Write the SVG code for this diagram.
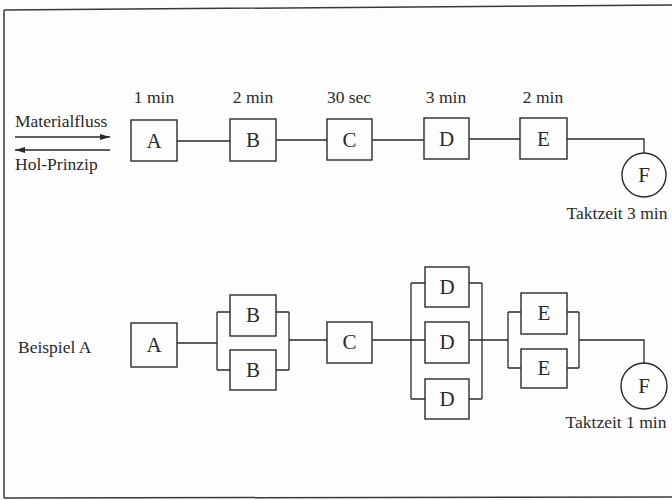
<svg xmlns="http://www.w3.org/2000/svg" width="672" height="500" viewBox="0 0 672 500" font-family="'Liberation Serif', 'DejaVu Serif', serif">
<defs>
<style>
text{font-family:'Liberation Serif','DejaVu Serif',serif;fill:#2a2a2a}
.lbl{font-size:17.5px}
.node rect,.node circle{fill:none;stroke:#2a2a2a;stroke-width:1.4}
.node text{font-size:21px;text-anchor:middle}
.c{fill:none;stroke:#2a2a2a;stroke-width:1.3}
.frame{fill:none;stroke:#3a3a3a;stroke-width:1.5}
</style>
<marker id="ah" viewBox="0 0 10 6" refX="10" refY="3" markerWidth="10" markerHeight="6" orient="auto" markerUnits="userSpaceOnUse"><path d="M0,0 L10,3 L0,6 z" fill="#2a2a2a"/></marker>
</defs>
<rect width="672" height="500" fill="#fdfdfd"/>
<path class="frame" d="M4,10 L672,5 M4,10 L4,498 M4,498 L672,497"/>

<g id="legend">
<text class="lbl" x="15" y="127">Materialfluss</text>
<line class="c" x1="15" y1="137" x2="110" y2="137" marker-end="url(#ah)"/>
<line class="c" x1="110" y1="150" x2="15" y2="150" marker-end="url(#ah)"/>
<text class="lbl" x="15" y="170">Hol-Prinzip</text>
<text class="lbl" x="18" y="353">Beispiel A</text>
</g>

<g id="times">
<text class="lbl" x="154" y="103" text-anchor="middle">1 min</text>
<text class="lbl" x="253" y="103" text-anchor="middle">2 min</text>
<text class="lbl" x="349" y="103" text-anchor="middle">30 sec</text>
<text class="lbl" x="446" y="103" text-anchor="middle">3 min</text>
<text class="lbl" x="543" y="103" text-anchor="middle">2 min</text>
<text class="lbl" x="617" y="219" text-anchor="middle">Taktzeit 3 min</text>
<text class="lbl" x="616" y="428" text-anchor="middle">Taktzeit 1 min</text>
</g>

<g id="connectors">
<path class="c" d="M177,141 H230 M276,140 H327 M372,140 H424 M469,139 H520 M567,139 H644 V153"/>
<path class="c" d="M177,343 H217 M217,312 V370 M217,312 H230 M217,370 H230 M276,312 H289 M276,370 H289 M289,312 V370 M289,340 H327"/>
<path class="c" d="M372,340 H411 M411,283 V399 M411,283 H425 M411,340 H425 M411,399 H425 M469,283 H482 M469,340 H508 M469,399 H482 M482,283 V399"/>
<path class="c" d="M508,312 V368 M508,312 H521 M508,368 H521 M567,312 H579 M567,368 H579 M579,312 V368 M579,340 H644 V364"/>
</g>

<g id="A1" class="node"><rect x="131" y="120" width="46" height="41"/><text x="154" y="148">A</text></g>
<g id="B1" class="node"><rect x="230" y="119" width="46" height="42"/><text x="253" y="147">B</text></g>
<g id="C1" class="node"><rect x="327" y="119" width="45" height="41"/><text x="349.5" y="147">C</text></g>
<g id="D1" class="node"><rect x="424" y="118" width="45" height="41"/><text x="446.5" y="146">D</text></g>
<g id="E1" class="node"><rect x="520" y="118" width="47" height="41"/><text x="543.5" y="146">E</text></g>
<g id="F1" class="node"><circle cx="644" cy="175" r="22"/><text x="644" y="182">F</text></g>

<g id="A2" class="node"><rect x="131" y="323" width="46" height="44"/><text x="154" y="352">A</text></g>
<g id="B2a" class="node"><rect x="230" y="295" width="46" height="41"/><text x="253" y="322">B</text></g>
<g id="B2b" class="node"><rect x="230" y="350" width="46" height="40"/><text x="253" y="377">B</text></g>
<g id="C2" class="node"><rect x="327" y="322" width="45" height="41"/><text x="349.5" y="349">C</text></g>
<g id="D2a" class="node"><rect x="425" y="267" width="44" height="40"/><text x="447" y="294">D</text></g>
<g id="D2b" class="node"><rect x="425" y="322" width="44" height="41"/><text x="447" y="349">D</text></g>
<g id="D2c" class="node"><rect x="425" y="379" width="44" height="40"/><text x="447" y="406">D</text></g>
<g id="E2a" class="node"><rect x="521" y="293" width="46" height="41"/><text x="544" y="320">E</text></g>
<g id="E2b" class="node"><rect x="521" y="349" width="46" height="39"/><text x="544" y="375">E</text></g>
<g id="F2" class="node"><circle cx="644" cy="386" r="23"/><text x="644" y="393">F</text></g>
</svg>
